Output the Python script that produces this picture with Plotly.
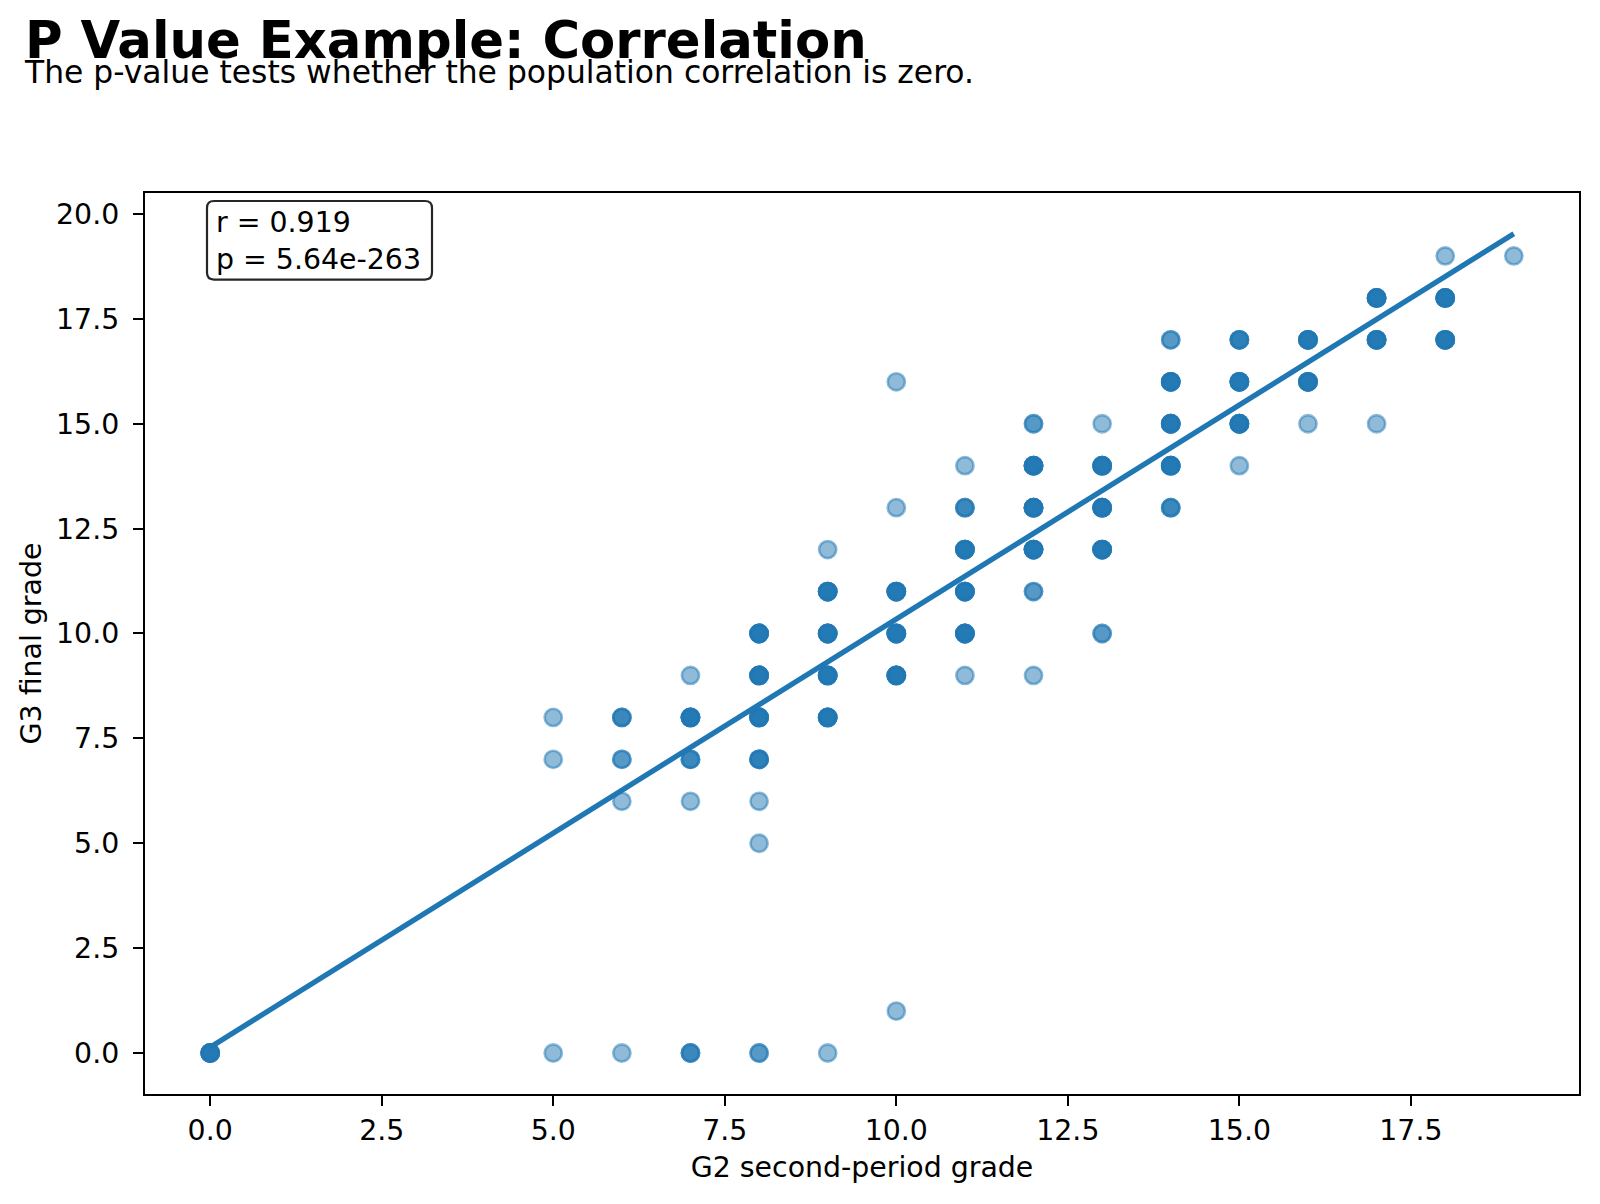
import plotly.graph_objects as go

# ---- data ----
g2 = [0,
      5, 5, 5,
      6, 6, 6, 6,
      7, 7, 7, 7, 7,
      8, 8, 8, 8, 8, 8, 8,
      9, 9, 9, 9, 9, 9,
      10, 10, 10, 10, 10, 10,
      11, 11, 11, 11, 11, 11,
      12, 12, 12, 12, 12, 12,
      13, 13, 13, 13, 13,
      14, 14, 14, 14, 14,
      15, 15, 15, 15,
      16, 16, 16,
      17, 17, 17,
      18, 18, 18,
      19]
g3 = [0,
      8, 7, 0,
      8, 7, 6, 0,
      9, 8, 7, 6, 0,
      10, 9, 8, 7, 6, 5, 0,
      12, 11, 10, 9, 8, 0,
      16, 13, 11, 10, 9, 1,
      14, 13, 12, 11, 10, 9,
      15, 14, 13, 12, 11, 9,
      15, 14, 13, 12, 10,
      17, 16, 15, 14, 13,
      17, 16, 15, 14,
      17, 16, 15,
      18, 17, 15,
      19, 18, 17,
      19]
# number of students sharing each (G2, G3) pair (estimated from overlap darkness)
counts = [6,
          1, 1, 1,
          3, 2, 1, 1,
          1, 6, 3, 1, 3,
          6, 6, 6, 4, 1, 1, 2,
          1, 6, 6, 6, 6, 1,
          1, 1, 6, 6, 6, 1,
          1, 3, 6, 6, 6, 1,
          2, 6, 6, 6, 2, 1,
          1, 6, 6, 6, 2,
          2, 6, 6, 6, 3,
          4, 6, 6, 1,
          6, 6, 1,
          6, 6, 1,
          1, 6, 6,
          1]

fit_x = [0, 19]
fit_y = [0.14, 19.53]

r_value = "0.919"
p_value = "5.64e-263"

x_ticks = [0, 2.5, 5, 7.5, 10, 12.5, 15, 17.5]
y_ticks = [0, 2.5, 5, 7.5, 10, 12.5, 15, 17.5, 20]

# expand pairs into individual students
xs, ys = [], []
for x, y, c in zip(g2, g3, counts):
    xs += [x] * c
    ys += [y] * c

BLUE = "rgba(31,119,180,0.5)"
FONT = "DejaVu Sans"
FS = 28.4

W, H = 1600, 1204
L, R, T, B = 145, 1579, 192.7, 1094.3
PW, PH = R - L, B - T


def px(x):
    return (x - L) / PW


def py(y):
    return (B - y) / PH


def rounded_box(x0, y0, x1, y1, rad):
    """Rounded rectangle path in paper coordinates from pixel bounds."""
    rx, ry = rad / PW, rad / PH
    a, b, c, d = px(x0), px(x1), py(y0), py(y1)  # left, right, top, bottom
    return (f"M {a + rx},{c} L {b - rx},{c} Q {b},{c} {b},{c - ry} "
            f"L {b},{d + ry} Q {b},{d} {b - rx},{d} "
            f"L {a + rx},{d} Q {a},{d} {a},{d + ry} "
            f"L {a},{c - ry} Q {a},{c} {a + rx},{c} Z")


fig = go.Figure()
fig.add_trace(go.Scatter(
    x=xs, y=ys, mode="markers",
    marker=dict(size=17.2, color=BLUE, line=dict(color=BLUE, width=2.6)),
    showlegend=False, hoverinfo="skip"))
fig.add_trace(go.Scatter(
    x=fit_x, y=fit_y, mode="lines",
    line=dict(color="#1f77b4", width=5.3),
    showlegend=False))

axis_common = dict(
    showgrid=False, zeroline=False, showline=True, mirror=True,
    linecolor="black", linewidth=2.2,
    ticks="outside", ticklen=10, tickwidth=2.2, tickcolor="black",
    tickformat=".1f", tickfont=dict(family=FONT, size=FS, color="black"),
)

fig.update_xaxes(range=[-0.95, 19.95], tickvals=x_ticks,
                 title=dict(text="G2 second-period grade",
                            font=dict(family=FONT, size=FS, color="black"),
                            standoff=11),
                 ticklabelstandoff=0, **axis_common)
fig.update_yaxes(range=[-0.977, 20.5], tickvals=y_ticks,
                 title=dict(text="G3 final grade",
                            font=dict(family=FONT, size=FS, color="black"),
                            standoff=6),
                 ticklabelstandoff=8, **axis_common)

# stats box
fig.add_shape(type="path", xref="paper", yref="paper",
              path=rounded_box(207, 200.7, 432, 279.3, 7),
              line=dict(color="rgba(0,0,0,0.85)", width=2.2),
              fillcolor="white", layer="above")
fig.add_annotation(
    xref="paper", yref="paper", x=px(216), y=py(206),
    xanchor="left", yanchor="top", align="left", showarrow=False,
    text=f"r = {r_value}<br>p = {p_value}",
    font=dict(family=FONT, size=FS, color="black"),
    borderpad=0, borderwidth=0)

fig.add_annotation(
    xref="paper", yref="paper", x=px(23), y=py(72),
    xanchor="left", yanchor="bottom", showarrow=False,
    text="<b>P Value Example: Correlation</b>",
    font=dict(family=FONT, size=51.3, color="black"))
fig.add_annotation(
    xref="paper", yref="paper", x=px(22), y=py(92),
    xanchor="left", yanchor="bottom", showarrow=False,
    text="The p-value tests whether the population correlation is zero.",
    font=dict(family=FONT, size=31.4, color="black"))

fig.update_layout(
    width=W, height=H,
    margin=dict(l=L, r=W - R, t=T, b=H - B, pad=0),
    paper_bgcolor="white", plot_bgcolor="white",
    font=dict(family=FONT),
)

fig.write_html("out.html")
